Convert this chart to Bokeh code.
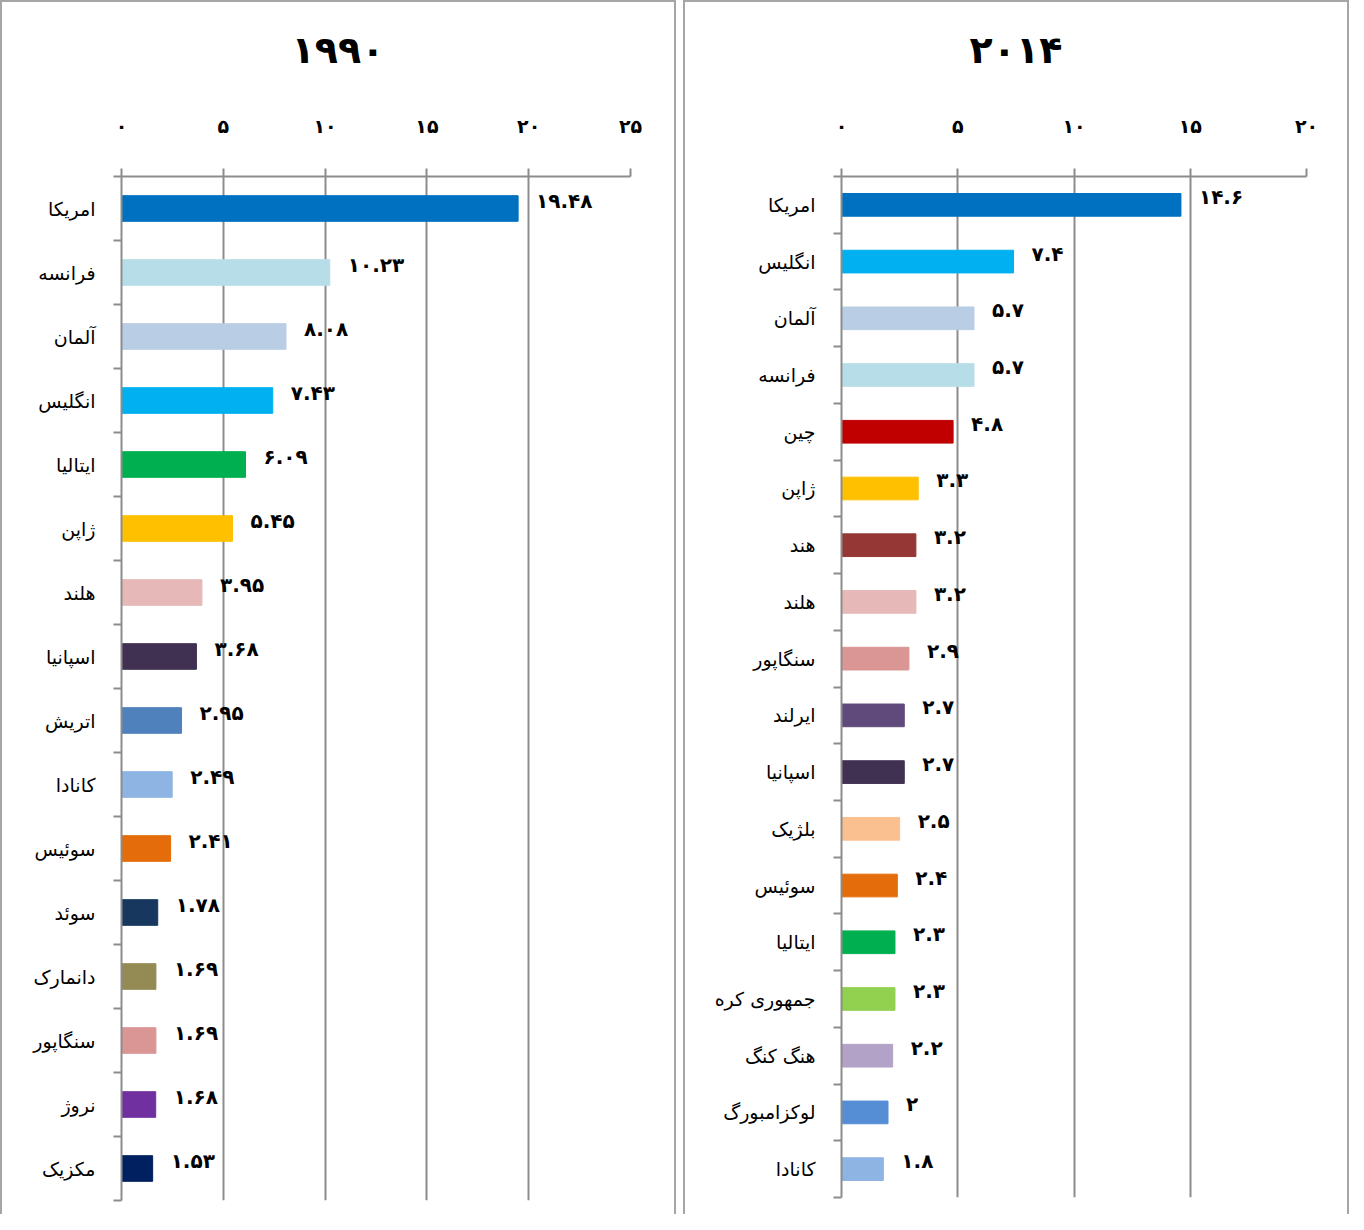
from bokeh.plotting import figure
from bokeh.models import Range1d, FixedTicker, ColumnDataSource, Div
from bokeh.layouts import row, column
from bokeh.embed import file_html
from bokeh.resources import INLINE
from bokeh.core.properties import value

# ---------------- data ----------------
title_1990 = "۱۹۹۰"
countries_1990 = ["امریکا", "فرانسه", "آلمان", "انگلیس", "ایتالیا", "ژاپن", "هلند", "اسپانیا",
                  "اتریش", "کانادا", "سوئیس", "سوئد", "دانمارک", "سنگاپور", "نروژ", "مکزیک"]
values_1990 = [19.48, 10.23, 8.08, 7.43, 6.09, 5.45, 3.95, 3.68, 2.95, 2.49, 2.41, 1.78, 1.69, 1.69, 1.68, 1.53]
colors_1990 = ["#0070C0", "#B7DEE8", "#B9CDE5", "#00B0F0", "#00B050", "#FFC000", "#E6B9B8", "#403152",
               "#4F81BD", "#8EB4E3", "#E46C0A", "#17375E", "#948A54", "#D99694", "#7030A0", "#002060"]
ticks_1990 = [0, 5, 10, 15, 20, 25]

title_2014 = "۲۰۱۴"
countries_2014 = ["امریکا", "انگلیس", "آلمان", "فرانسه", "چین", "ژاپن", "هند", "هلند", "سنگاپور",
                  "ایرلند", "اسپانیا", "بلژیک", "سوئیس", "ایتالیا", "جمهوری کره", "هنگ کنگ",
                  "لوکزامبورگ", "کانادا"]
values_2014 = [14.6, 7.4, 5.7, 5.7, 4.8, 3.3, 3.2, 3.2, 2.9, 2.7, 2.7, 2.5, 2.4, 2.3, 2.3, 2.2, 2.0, 1.8]
colors_2014 = ["#0070C0", "#00B0F0", "#B9CDE5", "#B7DEE8", "#C00000", "#FFC000", "#953735", "#E6B9B8",
               "#D99694", "#604A7B", "#403152", "#FAC090", "#E46C0A", "#00B050", "#92D050", "#B3A2C7",
               "#558ED5", "#8EB4E3"]
ticks_2014 = [0, 5, 10, 15, 20]

PD = str.maketrans("0123456789", "۰۱۲۳۴۵۶۷۸۹")


def fa(v):
    return format(v, "g").translate(PD)


FONT = "DejaVu Sans"
GRID = "#8c8c8c"
BORDER = "2px solid #a6a6a6"
DIV_H = 100
TOTAL_H = 1214


def panel(title, cats, vals, colors, ticks, width, mb_left, mb_right, mb_bottom):
    n = len(cats)
    centers = [i + 0.5 for i in range(n)]
    bounds = list(range(n + 1))
    src = ColumnDataSource(dict(y=centers, v=vals, c=colors, lab=[fa(v) for v in vals]))

    head = Div(text=title, width=width, height=DIV_H, margin=0,
               styles={"border-top": BORDER, "border-left": BORDER, "border-right": BORDER,
                       "box-sizing": "border-box", "text-align": "center",
                       "font-family": FONT, "font-size": "38px", "font-weight": "bold",
                       "color": "black", "padding-top": "26px", "line-height": "44px"})

    p = figure(width=width, height=TOTAL_H - DIV_H, output_backend="svg", toolbar_location=None,
               x_range=Range1d(ticks[0], ticks[-1]), y_range=Range1d(n, 0),
               x_axis_location="above",
               min_border_left=mb_left, min_border_right=mb_right,
               min_border_bottom=mb_bottom, min_border_top=76,
               outline_line_color=None, margin=0,
               styles={"border-left": BORDER, "border-right": BORDER})

    p.hbar(y="y", right="v", left=0, height=0.4, color="c", source=src)
    p.text(x="v", y="y", text="lab", source=src, x_offset=18, y_offset=-8,
           text_align="left", text_baseline="middle", text_font=value(FONT),
           text_font_style="bold", text_font_size="20px", text_color="black")

    xa = p.xaxis[0]
    xa.ticker = FixedTicker(ticks=ticks)
    xa.major_label_overrides = {t: fa(t) for t in ticks}
    xa.major_label_text_font = FONT
    xa.major_label_text_font_style = "bold"
    xa.major_label_text_font_size = "19px"
    xa.major_label_text_color = "black"
    xa.major_label_standoff = 32
    xa.major_tick_out = 8
    xa.major_tick_in = 0
    xa.minor_tick_out = 0
    xa.axis_line_color = GRID
    xa.axis_line_width = 2
    xa.major_tick_line_color = GRID
    xa.major_tick_line_width = 2

    ya = p.yaxis[0]
    ya.ticker = FixedTicker(ticks=centers, minor_ticks=bounds)
    ya.major_label_overrides = {c: name for c, name in zip(centers, cats)}
    ya.major_label_text_font = FONT
    ya.major_label_text_font_size = "19px"
    ya.major_label_text_color = "black"
    ya.major_label_standoff = 18
    ya.major_tick_out = 0
    ya.major_tick_in = 0
    ya.minor_tick_out = 8
    ya.minor_tick_in = 0
    ya.minor_tick_line_color = GRID
    ya.minor_tick_line_width = 2
    ya.axis_line_color = GRID
    ya.axis_line_width = 2

    p.xgrid.ticker = FixedTicker(ticks=ticks)
    p.xgrid.grid_line_color = GRID
    p.xgrid.grid_line_width = 2
    p.ygrid.visible = False
    return column(head, p, spacing=0)


c1 = panel(title_1990, countries_1990, values_1990, colors_1990, ticks_1990, 676, 119, 48, 14)
c2 = panel(title_2014, countries_2014, values_2014, colors_2014, ticks_2014, 666, 156, 45, 17)

layout = row(c1, c2, spacing=7)
open("out.html", "w").write(file_html(layout, INLINE))
